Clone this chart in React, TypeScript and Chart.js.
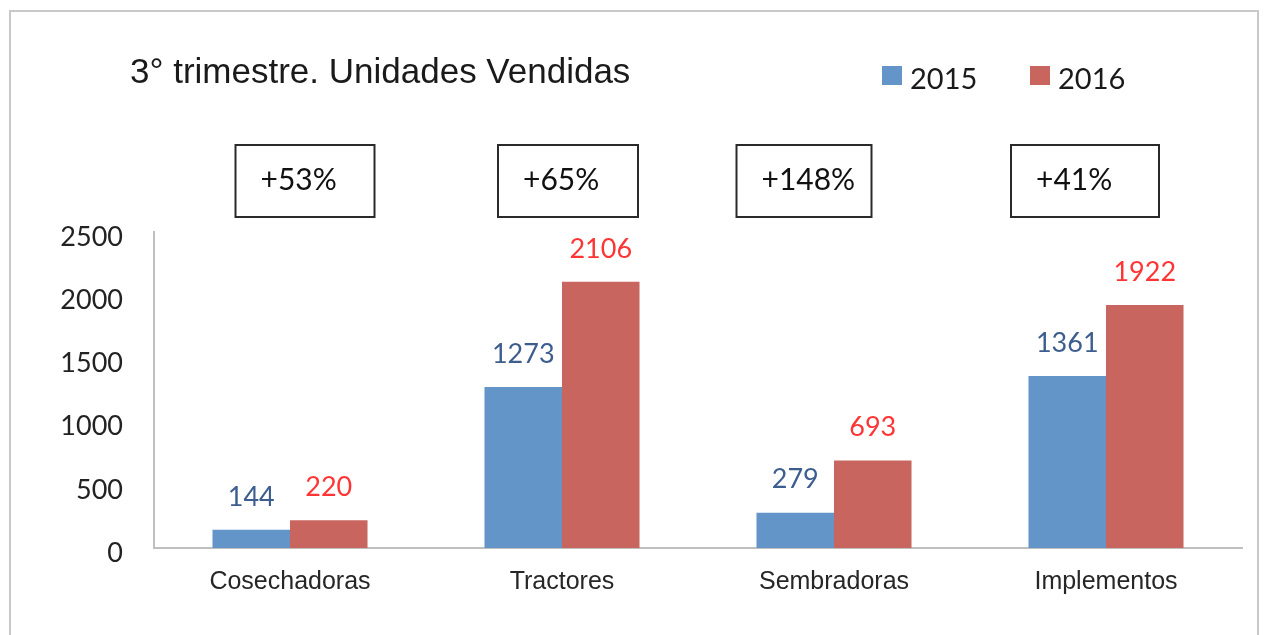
import React, { useEffect, useRef } from "react";
import { Chart, registerables } from "chart.js";

Chart.register(...registerables);

const categories = ["Cosechadoras", "Tractores", "Sembradoras", "Implementos"];
const seriesLabels = ["2015", "2016"];
const values2015 = [144, 1273, 279, 1361];
const values2016 = [220, 2106, 693, 1922];
const changeLabels = ["+53%", "+65%", "+148%", "+41%"];
const yTickValues = [0, 500, 1000, 1500, 2000, 2500];
const titleText = "3° trimestre. Unidades Vendidas";

const W = 1267;
const H = 635;
const BAR_COLORS = ["#6395C8", "#C8655F"];
const LABEL_COLORS = ["#3D5D8F", "#FF3535"];
const NUM_FONT = '"Lato", "Open Sans", sans-serif';
const ARIAL = '"Liberation Sans", Arial, sans-serif';
const BOX_OFFSETS = [15, 6, -30, -21];
const BOX_WIDTHS = [139, 140, 135, 148];

const decorPlugin = {
  id: "decor",
  beforeDraw(chart: any) {
    const ctx = chart.ctx;
    ctx.save();
    ctx.fillStyle = "#ffffff";
    ctx.fillRect(0, 0, W, H);
    ctx.strokeStyle = "#C9C9C9";
    ctx.lineWidth = 2;
    ctx.strokeRect(10, 11, 1248, 700);
    ctx.restore();
  },
  afterDatasetsDraw(chart: any) {
    const ctx = chart.ctx;
    ctx.save();
    ctx.font = `27px ${NUM_FONT}`;
    ctx.textAlign = "center";
    ctx.textBaseline = "middle";
    chart.data.datasets.forEach((ds: any, di: number) => {
      const meta = chart.getDatasetMeta(di);
      ctx.fillStyle = LABEL_COLORS[di];
      meta.data.forEach((bar: any, i: number) => {
        ctx.fillText(String(ds.data[i]), bar.x, bar.y - 33);
      });
    });
    ctx.restore();
  },
  afterDraw(chart: any) {
    const ctx = chart.ctx;
    ctx.save();
    // title
    ctx.font = `35px ${ARIAL}`;
    ctx.fillStyle = "#1A1A1A";
    ctx.textAlign = "left";
    ctx.textBaseline = "alphabetic";
    ctx.fillText(titleText, 130, 83);

    // legend
    const legendX = [882, 1030];
    ctx.font = `29px ${NUM_FONT}`;
    ctx.textBaseline = "middle";
    chart.data.datasets.forEach((ds: any, di: number) => {
      ctx.fillStyle = BAR_COLORS[di];
      ctx.fillRect(legendX[di], 66, 20, 19);
      ctx.fillStyle = "#1A1A1A";
      ctx.fillText(ds.label, legendX[di] + 28, 80);
    });

    // percentage boxes
    const xs = chart.scales.x;
    ctx.lineWidth = 2;
    ctx.strokeStyle = "#2A2A2A";
    changeLabels.forEach((t, i) => {
      const cx = xs.getPixelForValue(i) + BOX_OFFSETS[i];
      const w = BOX_WIDTHS[i];
      const left = cx - w / 2;
      ctx.fillStyle = "#ffffff";
      ctx.fillRect(left, 145, w, 72);
      ctx.strokeRect(left, 145, w, 72);
      ctx.fillStyle = "#111111";
      ctx.font = `30px ${NUM_FONT}`;
      ctx.textAlign = "left";
      ctx.textBaseline = "middle";
      ctx.fillText(t, left + 25, 180);
    });
    ctx.restore();
  },
};

export default function App() {
  const ref = useRef<HTMLCanvasElement | null>(null);

  useEffect(() => {
    document.body.style.margin = "0";
    const canvas = ref.current;
    if (!canvas) return;
    const chart = new Chart(canvas, {
      type: "bar",
      data: {
        labels: categories,
        datasets: [
          {
            label: seriesLabels[0],
            data: values2015,
            backgroundColor: BAR_COLORS[0],
            borderWidth: 0,
            categoryPercentage: 0.57,
            barPercentage: 1.0,
          },
          {
            label: seriesLabels[1],
            data: values2016,
            backgroundColor: BAR_COLORS[1],
            borderWidth: 0,
            categoryPercentage: 0.57,
            barPercentage: 1.0,
          },
        ],
      },
      options: {
        responsive: false,
        animation: false,
        devicePixelRatio: 1,
        layout: { padding: { top: 232, left: 0, right: 25, bottom: 0 } },
        plugins: {
          legend: { display: false },
          title: { display: false },
          tooltip: { enabled: false },
        },
        scales: {
          x: {
            grid: { display: false, drawTicks: false },
            border: { display: true, color: "#BFBFBF", width: 2 },
            ticks: {
              font: { family: ARIAL, size: 25, lineHeight: 1.2 },
              color: "#262626",
              padding: 19,
              maxRotation: 0,
            },
            afterFit: (s: any) => {
              s.height = 87;
            },
          },
          y: {
            min: 0,
            max: 2500,
            afterBuildTicks: (s: any) => {
              s.ticks = yTickValues.map((v) => ({ value: v }));
            },
            grid: { display: false, drawTicks: false },
            border: { display: true, color: "#BFBFBF", width: 2 },
            ticks: {
              font: { family: NUM_FONT, size: 27 },
              color: "#222222",
              padding: 31,
              labelOffset: 5,
              callback: (v: any) => String(v),
            },
            afterFit: (s: any) => {
              s.width = 154;
            },
          },
        },
      },
      plugins: [decorPlugin],
    });
    return () => chart.destroy();
  }, []);

  return (
    <div style={{ width: W, height: H }}>
      <canvas ref={ref} width={W} height={H} style={{ display: "block" }} />
    </div>
  );
}
